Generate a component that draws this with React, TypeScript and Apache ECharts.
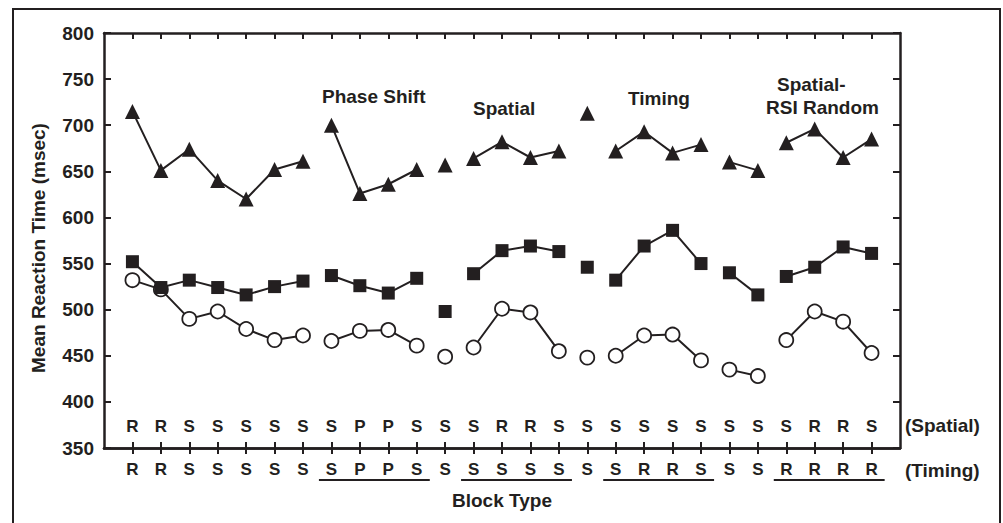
import React, { useEffect, useRef } from 'react';
import * as echarts from 'echarts';

const spatialLabels = ['R','R','S','S','S','S','S','S','P','P','S','S','S','R','R','S','S','S','S','S','S','S','S','S','R','R','S'];
const timingLabels = ['R','R','S','S','S','S','S','S','P','P','S','S','S','S','S','S','S','S','R','R','S','S','S','R','R','R','R'];

const triangles = [715,651,674,640,620,652,661,700,626,636,652,657,664,682,665,672,713,672,693,670,679,660,651,681,696,665,685];
const squares = [552,524,532,524,516,525,531,537,526,518,534,498,539,564,569,563,546,532,569,586,550,540,516,536,546,568,561];
const circles = [532,522,490,498,479,467,472,466,477,478,461,449,459,501,497,455,448,450,472,473,445,435,428,467,498,487,453];

const groups: [number, number][] = [[0,6],[7,10],[11,11],[12,15],[16,16],[17,20],[21,22],[23,26]];
const underlined: [number, number][] = [[7,10],[12,15],[17,20],[23,26]];

const yTicks = { min: 350, max: 800, interval: 50 };

const annotations = [
  { text: 'Phase Shift', x: 322, y: 96 },
  { text: 'Spatial', x: 473, y: 108 },
  { text: 'Timing', x: 628, y: 98 },
  { text: 'Spatial-', x: 777, y: 84 },
  { text: 'RSI Random', x: 766, y: 107 },
];

const INK = '#231f20';
const FONT = 'Liberation Sans, Arial, Helvetica, sans-serif';

export default function App() {
  const ref = useRef<HTMLDivElement>(null);
  useEffect(() => {
    if (!ref.current) return;
    const chart = echarts.init(ref.current, null, { renderer: 'svg' });
    const n = spatialLabels.length;
    const padded = (arr: string[]) => ['', ...arr, ''];
    const showIdx = (i: number) => i !== 0 && i !== n + 1;

    const makeSeries = (values: number[], symbol: string, size: number, filled: boolean, z: number) =>
      groups.map(([s, e]) => {
        const data: (number | null)[] = new Array(n + 2).fill(null);
        for (let i = s; i <= e; i++) data[i + 1] = values[i];
        return {
          type: 'line',
          xAxisIndex: 0,
          yAxisIndex: 0,
          data,
          connectNulls: false,
          symbol,
          symbolSize: size,
          showSymbol: true,
          showAllSymbol: true,
          z,
          lineStyle: { color: INK, width: 2 },
          itemStyle: filled
            ? { color: INK, borderWidth: 0 }
            : { color: '#ffffff', borderColor: INK, borderWidth: 1.8 },
          emphasis: { disabled: true },
        };
      });

    const baseX = {
      type: 'category',
      gridIndex: 0,
      boundaryGap: false,
      axisLine: { show: true, lineStyle: { color: INK, width: 2.5 } },
      splitLine: { show: false },
    };

    const option: any = {
      animation: false,
      backgroundColor: '#ffffff',
      grid: { left: 104, right: 103, top: 33, bottom: 75 },
      xAxis: [
        {
          ...baseX,
          position: 'bottom',
          data: padded(timingLabels),
          axisTick: { show: true, inside: false, length: 6, interval: (i: number) => showIdx(i), lineStyle: { color: INK, width: 2 } },
          axisLabel: { show: true, interval: 0, margin: 13, color: INK, fontSize: 17, fontWeight: 'bold', fontFamily: FONT },
        },
        {
          ...baseX,
          position: 'bottom',
          data: padded(spatialLabels),
          axisTick: { show: true, inside: true, length: 6, interval: (i: number) => showIdx(i), lineStyle: { color: INK, width: 2 } },
          axisLabel: { show: true, inside: true, interval: 0, margin: 13, color: INK, fontSize: 17, fontWeight: 'bold', fontFamily: FONT },
        },
        {
          ...baseX,
          position: 'top',
          data: padded(spatialLabels),
          axisTick: { show: true, inside: true, length: 6, interval: (i: number) => showIdx(i), lineStyle: { color: INK, width: 2 } },
          axisLabel: { show: false },
        },
      ],
      yAxis: [
        {
          type: 'value',
          position: 'left',
          min: yTicks.min,
          max: yTicks.max,
          interval: yTicks.interval,
          axisLine: { show: true, lineStyle: { color: INK, width: 2.5 } },
          axisTick: { show: true, inside: true, length: 7, lineStyle: { color: INK, width: 2 } },
          axisLabel: { show: true, margin: 10, color: INK, fontSize: 19, fontWeight: 'bold', fontFamily: FONT },
          splitLine: { show: false },
        },
        {
          type: 'value',
          position: 'right',
          min: yTicks.min,
          max: yTicks.max,
          interval: yTicks.interval,
          axisLine: { show: true, lineStyle: { color: INK, width: 2.5 } },
          axisTick: { show: true, inside: true, length: 7, lineStyle: { color: INK, width: 2 } },
          axisLabel: { show: false },
          splitLine: { show: false },
        },
      ],
      series: [
        ...makeSeries(circles, 'circle', 14, false, 2),
        ...makeSeries(squares, 'rect', 13, true, 3),
        ...makeSeries(triangles, 'triangle', 15, true, 4),
      ],
    };
    chart.setOption(option);

    const px = (i: number) => chart.convertToPixel({ xAxisIndex: 0 }, i + 1) as number;
    const step = px(1) - px(0);
    const textStyle = { font: `bold 19px ${FONT}`, fill: INK };
    const graphic: any[] = [
      { type: 'rect', shape: { x: 13, y: 9, width: 987, height: 530 }, style: { fill: 'none', stroke: INK, lineWidth: 2 }, silent: true },
      ...underlined.map(([s, e]) => ({
        type: 'line',
        shape: { x1: px(s) - 0.44 * step, y1: 480, x2: px(e) + 0.46 * step, y2: 480 },
        style: { stroke: INK, lineWidth: 1.8 },
        silent: true,
      })),
      ...annotations.map((a) => ({
        type: 'text', x: a.x, y: a.y,
        style: { ...textStyle, text: a.text, textAlign: 'left', textVerticalAlign: 'middle' },
        silent: true,
      })),
      { type: 'text', x: 905, y: 425.5, style: { ...textStyle, text: '(Spatial)', textAlign: 'left', textVerticalAlign: 'middle' }, silent: true },
      { type: 'text', x: 905, y: 470, style: { ...textStyle, text: '(Timing)', textAlign: 'left', textVerticalAlign: 'middle' }, silent: true },
      { type: 'text', x: 502, y: 500, style: { ...textStyle, text: 'Block Type', textAlign: 'center', textVerticalAlign: 'middle' }, silent: true },
      { type: 'text', x: 38, y: 248, rotation: Math.PI / 2, style: { ...textStyle, text: 'Mean Reaction Time (msec)', textAlign: 'center', textVerticalAlign: 'middle' }, silent: true },
    ];
    chart.setOption({ graphic });

    return () => chart.dispose();
  }, []);
  return <div ref={ref} style={{ position: 'absolute', left: 0, top: 0, width: 1003, height: 523, background: '#fff' }} />;
}
